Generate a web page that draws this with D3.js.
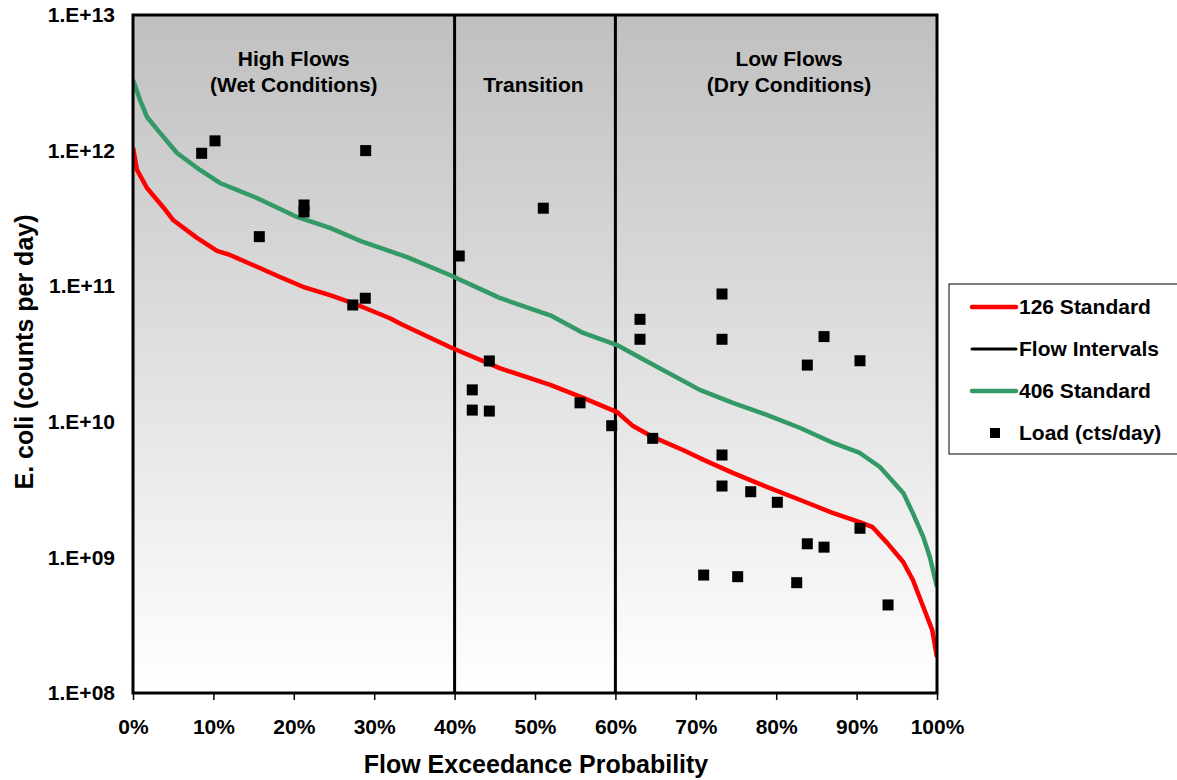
<!DOCTYPE html>
<html>
<head>
<meta charset="utf-8">
<script src="https://cdn.jsdelivr.net/npm/d3@7"></script>
<style>
  html, body { margin: 0; padding: 0; background: #ffffff; }
  svg { display: block; }
  text { font-family: "Liberation Sans", Arial, sans-serif; font-weight: bold; fill: #000; }
</style>
</head>
<body>
<svg id="chart" width="1177" height="780"></svg>
<script>
// ---------- data ----------
// 126 Standard curve: flow exceedance (%) and E. coli load (counts/day)
const std126Pct = [0, 0.5, 1.74, 3.73, 4.98, 7.96, 10.45, 12.06, 15.42, 18.28, 21.14, 24.5, 27.86, 31.97, 33.2, 39.4, 45.6, 51.9, 56.0, 60.2, 62.2, 64.7, 68.4, 70.5, 74.6, 78.9, 83.0, 87.1, 90.4, 92.0, 93.8, 95.8, 97.0, 98.3, 99.4, 100];
const std126Val = [1.05e12, 7.2e11, 5.3e11, 3.84e11, 3.08e11, 2.27e11, 1.82e11, 1.70e11, 1.39e11, 1.17e11, 9.9e10, 8.6e10, 7.3e10, 5.8e10, 5.3e10, 3.56e10, 2.49e10, 1.87e10, 1.50e10, 1.18e10, 9.3e9, 7.7e9, 6.2e9, 5.4e9, 4.2e9, 3.3e9, 2.65e9, 2.12e9, 1.82e9, 1.67e9, 1.28e9, 9.25e8, 6.81e8, 4.31e8, 2.92e8, 1.84e8];

// 406 Standard curve
const std406Pct = [0, 0.87, 1.74, 3.36, 5.47, 8.33, 10.8, 15.4, 20.4, 24.5, 28.6, 34.1, 39.4, 45.6, 51.9, 56.0, 60.2, 64.3, 70.5, 74.6, 78.9, 83.0, 87.1, 90.4, 92.9, 95.8, 97.0, 98.3, 99.1, 100];
const std406Val = [3.32e12, 2.36e12, 1.77e12, 1.35e12, 9.6e11, 7.2e11, 5.77e11, 4.47e11, 3.24e11, 2.69e11, 2.12e11, 1.64e11, 1.21e11, 8.2e10, 6.1e10, 4.52e10, 3.68e10, 2.71e10, 1.72e10, 1.38e10, 1.12e10, 9.0e9, 6.98e9, 5.89e9, 4.64e9, 2.99e9, 2.12e9, 1.41e9, 1.01e9, 6.05e8];

// Observed loads
const loadPct = [8.54, 10.20, 28.94, 21.27, 21.27, 15.71, 27.33, 28.89, 40.58, 51.03, 44.32, 42.20, 42.20, 44.32, 55.60, 59.54, 64.64, 63.06, 63.06, 73.26, 73.26, 85.95, 83.87, 90.42, 73.26, 73.26, 76.83, 80.14, 90.42, 83.87, 85.95, 70.98, 75.21, 82.55, 93.91];
const loadVal = [9.55e11, 1.18e12, 1.0e12, 3.97e11, 3.53e11, 2.32e11, 7.27e10, 8.15e10, 1.67e11, 3.76e11, 2.81e10, 1.72e10, 1.22e10, 1.20e10, 1.38e10, 9.36e9, 7.55e9, 5.7e10, 4.06e10, 8.76e10, 4.06e10, 4.25e10, 2.62e10, 2.82e10, 5.69e9, 3.36e9, 3.05e9, 2.55e9, 1.64e9, 1.26e9, 1.19e9, 7.41e8, 7.21e8, 6.51e8, 4.46e8];

// Flow interval boundaries (%)
const flowIntervals = [40, 60];

// Axis ticks
const xTicks = [0, 10, 20, 30, 40, 50, 60, 70, 80, 90, 100];
const yTicks = [1e8, 1e9, 1e10, 1e11, 1e12, 1e13];
const yTickLabels = ["1.E+08", "1.E+09", "1.E+10", "1.E+11", "1.E+12", "1.E+13"];

// Zone labels
const zoneLines = [["High Flows", "(Wet Conditions)"], ["Transition"], ["Low Flows", "(Dry Conditions)"]];
const zoneCenters = [20, 49.8, 81.6];

// Legend
const legendNames = ["126 Standard", "Flow Intervals", "406 Standard", "Load (cts/day)"];

// ---------- layout ----------
const L = 133, R = 937, T = 15, B = 693;
const svg = d3.select("#chart");

const x = d3.scaleLinear().domain([0, 100]).range([L, R]);
const y = d3.scaleLog().domain([1e8, 1e13]).range([B, T]);

// background gradient
const defs = svg.append("defs");
const grad = defs.append("linearGradient").attr("id", "bg").attr("x1", 0).attr("y1", 0).attr("x2", 0).attr("y2", 1);
grad.append("stop").attr("offset", "0%").attr("stop-color", "#c0c0c0");
grad.append("stop").attr("offset", "100%").attr("stop-color", "#ffffff");
defs.append("clipPath").attr("id", "clip").append("rect")
  .attr("x", L).attr("y", T).attr("width", R - L).attr("height", B - T);

svg.append("rect").attr("x", L).attr("y", T).attr("width", R - L).attr("height", B - T)
  .attr("fill", "url(#bg)");

// flow interval lines
svg.append("g").selectAll("line").data(flowIntervals).join("line")
  .attr("x1", d => x(d)).attr("x2", d => x(d)).attr("y1", T).attr("y2", B)
  .attr("stroke", "#000").attr("stroke-width", 3);

// curves
const line = d3.line().x(d => x(d[0])).y(d => y(d[1])).curve(d3.curveLinear);
const g = svg.append("g").attr("clip-path", "url(#clip)");
g.append("path").datum(d3.zip(std406Pct, std406Val)).attr("d", line)
  .attr("fill", "none").attr("stroke", "#339966").attr("stroke-width", 4.5).attr("stroke-linejoin", "round");
g.append("path").datum(d3.zip(std126Pct, std126Val)).attr("d", line)
  .attr("fill", "none").attr("stroke", "#ff0000").attr("stroke-width", 4.5).attr("stroke-linejoin", "round");

// loads
const ms = 11;
svg.append("g").selectAll("rect").data(d3.zip(loadPct, loadVal)).join("rect")
  .attr("x", d => x(d[0]) - ms / 2).attr("y", d => y(d[1]) - ms / 2)
  .attr("width", ms).attr("height", ms).attr("fill", "#000");

// plot border
svg.append("rect").attr("x", L).attr("y", T).attr("width", R - L).attr("height", B - T)
  .attr("fill", "none").attr("stroke", "#000").attr("stroke-width", 3);

// x axis
const xAxis = d3.axisBottom(x).tickValues(xTicks).tickFormat(d => d + "%").tickSize(7).tickPadding(19);
const gx = svg.append("g").attr("transform", `translate(0,${B})`).call(xAxis);
gx.select(".domain").remove();
gx.selectAll(".tick line").attr("stroke", "#000").attr("stroke-width", 1.5);
gx.selectAll(".tick text").attr("font-size", 21).attr("font-family", "Liberation Sans, Arial, sans-serif").attr("font-weight", "bold").attr("fill", "#000");

// y axis
const yAxis = d3.axisLeft(y).tickValues(yTicks).tickFormat((d, i) => yTickLabels[i]).tickSize(0).tickPadding(18);
const gy = svg.append("g").attr("transform", `translate(${L},0)`).call(yAxis);
gy.select(".domain").remove();
gy.selectAll(".tick text").attr("font-size", 21).attr("font-family", "Liberation Sans, Arial, sans-serif").attr("font-weight", "bold").attr("fill", "#000");

// axis titles
svg.append("text").attr("x", 536).attr("y", 773).attr("text-anchor", "middle")
  .attr("font-size", 25).text("Flow Exceedance Probability");
svg.append("text").attr("transform", "translate(33,352) rotate(-90)").attr("text-anchor", "middle")
  .attr("font-size", 25).text("E. coli (counts per day)");

// zone labels
zoneLines.forEach((lines, i) => {
  const t = svg.append("text").attr("text-anchor", "middle").attr("font-size", 21);
  const base = lines.length === 2 ? 66 : 92;
  lines.forEach((s, j) => {
    t.append("tspan").attr("x", x(zoneCenters[i])).attr("y", base + j * 26).text(s);
  });
});

// legend
const lg = svg.append("g");
lg.append("rect").attr("x", 949).attr("y", 284).attr("width", 240).attr("height", 170)
  .attr("fill", "#fff").attr("stroke", "#000").attr("stroke-width", 1);
const legendY = [307, 349, 391, 433];
const legendStyle = [
  {type: "line", color: "#ff0000", w: 4.5},
  {type: "line", color: "#000", w: 3},
  {type: "line", color: "#339966", w: 4.5},
  {type: "square"}
];
legendNames.forEach((name, i) => {
  const s = legendStyle[i];
  if (s.type === "line") {
    lg.append("line").attr("x1", 972).attr("x2", 1016).attr("y1", legendY[i]).attr("y2", legendY[i])
      .attr("stroke", s.color).attr("stroke-width", s.w).attr("stroke-linecap", "round");
  } else {
    lg.append("rect").attr("x", 990).attr("y", legendY[i] - 5).attr("width", 10).attr("height", 10).attr("fill", "#000");
  }
  lg.append("text").attr("x", 1019).attr("y", legendY[i] + 7).attr("font-size", 21).text(name);
});
</script>
</body>
</html>
